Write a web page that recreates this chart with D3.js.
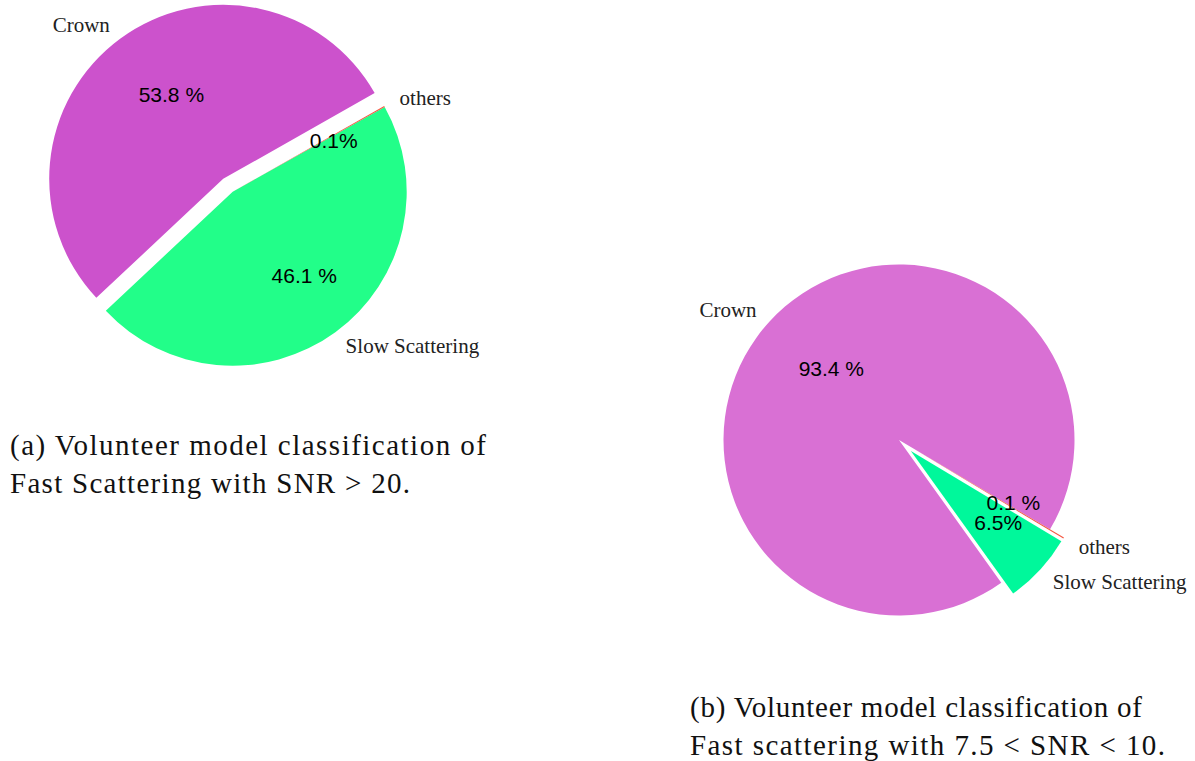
<!DOCTYPE html>
<html>
<head>
<meta charset="utf-8">
<script src="https://cdn.jsdelivr.net/npm/d3@7"></script>
<style>
  html, body { margin: 0; padding: 0; background: #fff; }
  svg { display: block; }
  .lbl { font-family: "Liberation Serif", "Times New Roman", serif; font-size: 21px; fill: #222; }
  .pct { font-family: "Liberation Sans", Arial, sans-serif; font-size: 21px; fill: #000; }
  .cap { font-family: "Liberation Serif", "Times New Roman", serif; font-size: 29px; fill: #111; }
</style>
</head>
<body>
<script>
// ---- data ----
const categories = ["Crown", "Slow Scattering", "others"];
const valuesA = [53.8, 46.1, 0.1];
const valuesB = [93.4, 6.5, 0.1];
const pctLabelsA = ["53.8 %", "46.1 %", "0.1%"];
const pctLabelsB = ["93.4 %", "6.5%", "0.1 %"];
const explodeA = [1, 0, 0];
const explodeB = [0, 1, 1];
const startAngleA = 29.5;   // degrees, counter-clockwise from 3 o'clock
const startAngleB = -30.6;
const colorsA = ["#cc52cc", "#22fe89", "#f4553f"];
const colorsB = ["#d970d4", "#00f89b", "#f4553f"];
const captionA = ["(a) Volunteer model classification of", "Fast Scattering with SNR > 20."];
const captionB = ["(b) Volunteer model classification of", "Fast scattering with 7.5 < SNR < 10."];

const W = 1195, H = 761;
const svg = d3.select("body").append("svg").attr("width", W).attr("height", H);

function drawPie(cfg) {
  const g = svg.append("g").attr("transform", `translate(${cfg.cx},${cfg.cy})`);
  const a0 = (90 - cfg.start) * Math.PI / 180;
  const pie = d3.pie().sort(null).value(d => d.v).startAngle(a0).endAngle(a0 - 2 * Math.PI);
  const data = categories.map((c, i) => ({ c, v: cfg.values[i], p: cfg.pct[i], e: cfg.explode[i], col: cfg.colors[i] }));
  const arcs = pie(data);
  const arc = d3.arc().innerRadius(0).outerRadius(cfg.r);
  const dist = cfg.r * 0.092;
  arcs.forEach(a => {
    const m = (a.startAngle + a.endAngle) / 2;
    a.ux = Math.sin(m); a.uy = -Math.cos(m);
    a.ox = a.data.e * dist * a.ux; a.oy = a.data.e * dist * a.uy;
  });
  g.selectAll("path.slice").data(arcs).join("path")
    .attr("class", "slice")
    .attr("d", arc)
    .attr("fill", d => d.data.col)
    .attr("transform", d => `translate(${d.ox},${d.oy})`);
  g.selectAll("text.lbl").data(arcs).join("text")
    .attr("class", "lbl")
    .attr("x", d => d.ox + d.ux * cfg.r * 1.1)
    .attr("y", d => d.oy + d.uy * cfg.r * 1.1)
    .attr("dominant-baseline", "central")
    .attr("text-anchor", d => d.ux >= 0 ? "start" : "end")
    .text(d => d.data.c);
  g.selectAll("text.pct").data(arcs).join("text")
    .attr("class", "pct")
    .attr("x", d => d.ox + d.ux * cfg.r * 0.6 + 10)
    .attr("y", d => d.oy + d.uy * cfg.r * 0.6)
    .attr("dominant-baseline", "central")
    .attr("text-anchor", "middle")
    .text(d => d.data.p);
  cfg.caption.forEach((t, i) => {
    svg.append("text").attr("class", "cap")
      .attr("x", cfg.capX).attr("y", cfg.capY + i * 38)
      .attr("textLength", cfg.capLen[i]).attr("lengthAdjust", "spacing")
      .text(t);
  });
}

drawPie({ cx: 232.7, cy: 191.7, r: 174, values: valuesA, pct: pctLabelsA, explode: explodeA,
  start: startAngleA, colors: colorsA, caption: captionA, capX: 10, capY: 455, capLen: [476, 400] });
drawPie({ cx: 899, cy: 440, r: 175.5, values: valuesB, pct: pctLabelsB, explode: explodeB,
  start: startAngleB, colors: colorsB, caption: captionB, capX: 690, capY: 717, capLen: [452, 475] });
</script>
</body>
</html>
